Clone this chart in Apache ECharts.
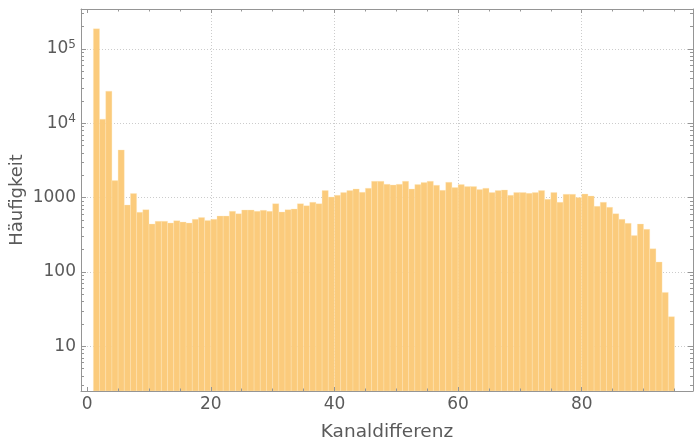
<!DOCTYPE html>
<html><head><meta charset="utf-8">
<script src="https://cdn.jsdelivr.net/npm/echarts@6/dist/echarts.min.js"></script>
<style>html,body{margin:0;padding:0;background:#fff}#c{width:695px;height:442px}</style>
</head><body><div id="c"></div>
<script>
// Histogram bins: left edge of each unit-wide bin (Kanaldifferenz)
const binStart = [1,2,3,4,5,6,7,8,9,10,11,12,13,14,15,16,17,18,19,20,
  21,22,23,24,25,26,27,28,29,30,31,32,33,34,35,36,37,38,39,40,
  41,42,43,44,45,46,47,48,49,50,51,52,53,54,55,56,57,58,59,60,
  61,62,63,64,65,66,67,68,69,70,71,72,73,74,75,76,77,78,79,80,
  81,82,83,84,85,86,87,88,89,90,91,92,93,94];
// Häufigkeit (counts) per bin
const counts = [187000,11360,27080,1695,4380,795,1132,634,689,441,
  480,480,455,490,469,455,510,538,494,510,
  565,565,654,608,681,681,654,674,654,830,
  640,689,703,830,780,864,830,1242,1019,1074,
  1168,1242,1306,1179,1335,1658,1658,1511,1479,1511,
  1658,1306,1497,1593,1658,1465,1254,1608,1364,1497,
  1407,1407,1282,1335,1168,1242,1266,1074,1168,1168,
  1143,1168,1242,949,1168,864,1108,1108,1000,1118,
  1051,763,864,740,608,510,451,308,441,374,
  205,136,53,25];
const xTicks = [0,20,40,60,80];
const xGrid = [20,40,60,80];
const xMinorTicks = [5,10,15,25,30,35,45,50,55,65,70,75,85,90,95];
const yTicks = [10,100,1000,10000,100000];
const yMinorTicks = [3,4,5,6,7,8,9,20,30,40,50,60,70,80,90,
  200,300,400,500,600,700,800,900,2000,3000,4000,5000,6000,7000,8000,9000,
  20000,30000,40000,50000,60000,70000,80000,90000,200000,300000];

const X_MIN = -1, X_MAX = 98, Y_MIN = 2.5, Y_MAX = 345000;
const FRAME = '#959595', TEXT = '#5a5a5a', GRID = '#cccccc';
const FONT = 'DejaVu Sans';
const BAR = '#FBCB7C', EDGE = 'rgba(255,232,190,0.55)';

const chart = echarts.init(document.getElementById('c'), null, {renderer: 'canvas'});

function xAx(extra) {
  return Object.assign({type: 'value', min: X_MIN, max: X_MAX, gridIndex: 0,
    axisLine: {show: false, onZero: false}, axisTick: {show: false}, axisLabel: {show: false},
    splitLine: {show: false}}, extra);
}
function yAx(extra) {
  return Object.assign({type: 'log', logBase: 10, min: Y_MIN, max: Y_MAX, gridIndex: 0,
    axisLine: {show: false, onZero: false}, axisTick: {show: false}, axisLabel: {show: false},
    splitLine: {show: false}}, extra);
}
const tickStyle = {color: FRAME, width: 1};

const option = {
  animation: false,
  backgroundColor: '#fff',
  grid: {left: 81, right: 2, top: 9, bottom: 51, containLabel: false, outerBoundsMode: 'none'},
  xAxis: [
    xAx({position: 'bottom', z: 10,
      axisLine: {show: true, onZero: false, lineStyle: {color: FRAME, width: 1}},
      axisTick: {show: true, inside: true, length: 4, customValues: xTicks, lineStyle: tickStyle},
      axisLabel: {show: true, customValues: xTicks, margin: 5, color: TEXT, fontSize: 17, fontFamily: FONT},
      name: 'Kanaldifferenz', nameLocation: 'middle', nameGap: 32,
      nameTextStyle: {color: TEXT, fontSize: 18.5, fontFamily: FONT}}),
    xAx({position: 'bottom', z: 10,
      axisTick: {show: true, inside: true, length: 2.5, customValues: xMinorTicks, lineStyle: tickStyle}}),
    xAx({position: 'top', z: 10,
      axisLine: {show: true, onZero: false, lineStyle: {color: FRAME, width: 1}},
      axisTick: {show: true, inside: true, length: 4, customValues: xTicks, lineStyle: tickStyle}}),
    xAx({position: 'top', z: 10,
      axisTick: {show: true, inside: true, length: 2.5, customValues: xMinorTicks, lineStyle: tickStyle}}),
    xAx({position: 'bottom', z: 0,
      axisTick: {show: false, customValues: xGrid},
      splitLine: {show: true, lineStyle: {color: GRID, width: 1, type: [1, 2]}}})
  ],
  yAxis: [
    yAx({position: 'left', z: 10,
      axisLine: {show: true, onZero: false, lineStyle: {color: FRAME, width: 1}},
      axisTick: {show: true, inside: true, length: 5, customValues: yTicks, lineStyle: tickStyle},
      axisLabel: {show: true, customValues: yTicks, margin: 5, color: TEXT, fontSize: 17, fontFamily: FONT,
        formatter: function (v) {
          if (v >= 10000) { return '{b|10}{s|' + Math.round(Math.log10(v)) + '}'; }
          return '{b|' + Math.round(v) + '}';
        },
        rich: {
          b: {fontSize: 17, fontFamily: FONT, color: TEXT, lineHeight: 20},
          s: {fontSize: 12, fontFamily: FONT, color: TEXT, lineHeight: 12, verticalAlign: 'top'}
        }},
      name: 'Häufigkeit', nameLocation: 'middle', nameGap: 55, nameRotate: 90, nameMoveOverlap: false,
      nameTextStyle: {color: TEXT, fontSize: 18, fontFamily: FONT}}),
    yAx({position: 'left', z: 10,
      axisTick: {show: true, inside: true, length: 3, customValues: yMinorTicks, lineStyle: tickStyle}}),
    yAx({position: 'right', z: 10,
      axisLine: {show: true, onZero: false, lineStyle: {color: FRAME, width: 1}},
      axisTick: {show: true, inside: true, length: 5, customValues: yTicks, lineStyle: tickStyle}}),
    yAx({position: 'right', z: 10,
      axisTick: {show: true, inside: true, length: 3, customValues: yMinorTicks, lineStyle: tickStyle}}),
    yAx({position: 'left', z: 0,
      axisTick: {show: false, customValues: yTicks},
      splitLine: {show: true, lineStyle: {color: GRID, width: 1, type: [1, 2]}}})
  ],
  series: [{
    type: 'custom',
    xAxisIndex: 0, yAxisIndex: 0,
    z: 2,
    clip: true,
    data: binStart.map((b, i) => [b, counts[i]]),
    encode: {x: 0, y: 1},
    renderItem: function (params, api) {
      const x = api.value(0), v = api.value(1);
      const p0 = api.coord([x, v]);
      const p1 = api.coord([x + 1, Y_MIN]);
      return {
        type: 'rect',
        shape: {x: p0[0], y: p0[1], width: p1[0] - p0[0], height: p1[1] - p0[1]},
        style: {fill: BAR, stroke: EDGE, lineWidth: 0.6}
      };
    }
  }]
};
chart.setOption(option);
</script>
</body></html>
